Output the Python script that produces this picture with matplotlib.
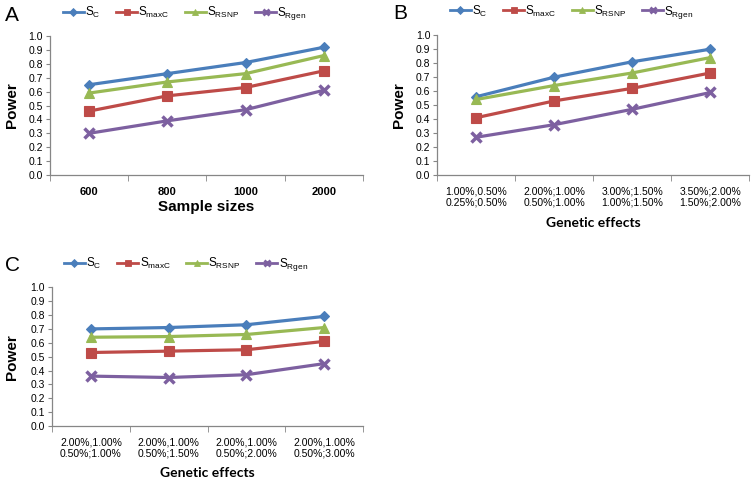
import matplotlib
matplotlib.use("Agg")
import matplotlib.pyplot as plt
from matplotlib.lines import Line2D
import numpy as np

plt.rcParams['font.family'] = ['Liberation Sans', 'DejaVu Sans']
plt.rcParams['mathtext.fontset'] = 'custom'
plt.rcParams['mathtext.rm'] = 'Liberation Sans'

series_names = [r'$\mathregular{S_{C}}$', r'$\mathregular{S_{maxC}}$',
                r'$\mathregular{S_{RSNP}}$', r'$\mathregular{S_{Rgen}}$']

# Panel A
cats_a = ['600', '800', '1000', '2000']
a_sc = [0.65, 0.73, 0.81, 0.92]
a_smaxc = [0.46, 0.57, 0.63, 0.75]
a_srsnp = [0.59, 0.67, 0.73, 0.86]
a_srgen = [0.30, 0.39, 0.47, 0.61]

# Panel B
cats_b = ['1.00%,0.50%\n0.25%;0.50%', '2.00%;1.00%\n0.50%;1.00%',
          '3.00%;1.50%\n1.00%;1.50%', '3.50%;2.00%\n1.50%;2.00%']
b_sc = [0.56, 0.70, 0.81, 0.90]
b_smaxc = [0.41, 0.53, 0.62, 0.73]
b_srsnp = [0.54, 0.64, 0.73, 0.84]
b_srgen = [0.27, 0.36, 0.47, 0.59]

# Panel C
cats_c = ['2.00%,1.00%\n0.50%;1.00%', '2.00%,1.00%\n0.50%;1.50%',
          '2.00%,1.00%\n0.50%;2.00%', '2.00%,1.00%\n0.50%;3.00%']
c_sc = [0.70, 0.71, 0.73, 0.79]
c_smaxc = [0.53, 0.54, 0.55, 0.61]
c_srsnp = [0.64, 0.645, 0.66, 0.71]
c_srgen = [0.36, 0.35, 0.37, 0.45]

colors = ['#4A7EBB', '#BE4B48', '#98B954', '#7D60A0']
markers = ['D', 's', '^', 'x']
msizes = [5.5, 7, 6.5, 7]
leg_msizes = [4, 5, 5, 5]

fig = plt.figure(figsize=(7.54, 4.82), dpi=100)

def panel(rect, letter, cats, data, xlabel, bold_ticks, xlabel_font, xlabel_y, letter_pos, ylabel_x, tick_pad):
    ax = fig.add_axes(rect)
    x = np.arange(len(cats))
    for vals, c, m, ms in zip(data, colors, markers, msizes):
        ax.plot(x, vals, color=c, marker=m, markersize=ms, linewidth=2.3,
                markeredgewidth=2.5 if m == 'x' else 0.8)
    ax.set_xlim(-0.5, len(cats) - 0.5)
    ax.set_ylim(0, 1.0)
    yt = np.arange(0, 1.01, 0.1)
    ax.set_yticks(yt)
    ax.set_yticklabels([f'{v:.1f}' for v in yt], fontsize=7.5)
    ax.set_xticks(x)
    ax.set_xticklabels(cats, fontsize=8 if bold_ticks else 7.5,
                       fontweight='bold' if bold_ticks else 'normal', linespacing=1.1)
    ax.set_xticks(np.arange(-0.5, len(cats), 1.0), minor=True)
    ax.tick_params(axis='x', which='major', length=0, pad=tick_pad)
    ax.tick_params(axis='x', which='minor', length=4, color='#868686')
    ax.tick_params(axis='y', length=3, color='#868686', pad=2)
    for s in ['top', 'right']:
        ax.spines[s].set_visible(False)
    for s in ['left', 'bottom']:
        ax.spines[s].set_color('#868686')
        ax.spines[s].set_linewidth(0.9)
    ax.set_ylabel('Power', fontsize=11, fontweight='bold')
    ax.yaxis.set_label_coords(ylabel_x, 0.5)
    ax.set_xlabel(xlabel, fontsize=xlabel_font[1], fontweight='bold', family=xlabel_font[0])
    ax.xaxis.set_label_coords(0.5, xlabel_y)
    handles = [Line2D([], [], color=c, marker=m, markersize=ms, linewidth=2.0,
                      markeredgewidth=2.0 if m == 'x' else 0.6)
               for c, m, ms in zip(colors, markers, leg_msizes)]
    ax.legend(handles, series_names, loc='center', bbox_to_anchor=(0.43, 1.165), ncol=4,
              frameon=False, fontsize=8.5, handlelength=1.8, handletextpad=0.1,
              columnspacing=1.3, borderaxespad=0)
    fig.text(letter_pos[0], letter_pos[1], letter, fontsize=15, ha='left', va='center')
    return ax

panel([0.0663, 0.637, 0.415, 0.288], 'A', cats_a, [a_sc, a_smaxc, a_srsnp, a_srgen],
      'Sample sizes', True, ('Liberation Sans', 11), -0.18, (0.006, 0.968), -0.10, 9)
panel([0.580, 0.637, 0.414, 0.290], 'B', cats_b, [b_sc, b_smaxc, b_srsnp, b_srgen],
      'Genetic effects', False, ('Lato', 10), -0.30, (0.522, 0.973), -0.10, 8.5)
panel([0.069, 0.116, 0.4125, 0.288], 'C', cats_c, [c_sc, c_smaxc, c_srsnp, c_srgen],
      'Genetic effects', False, ('Lato', 10), -0.295, (0.006, 0.45), -0.105, 8.5)

fig.savefig('out.png', dpi=100)
